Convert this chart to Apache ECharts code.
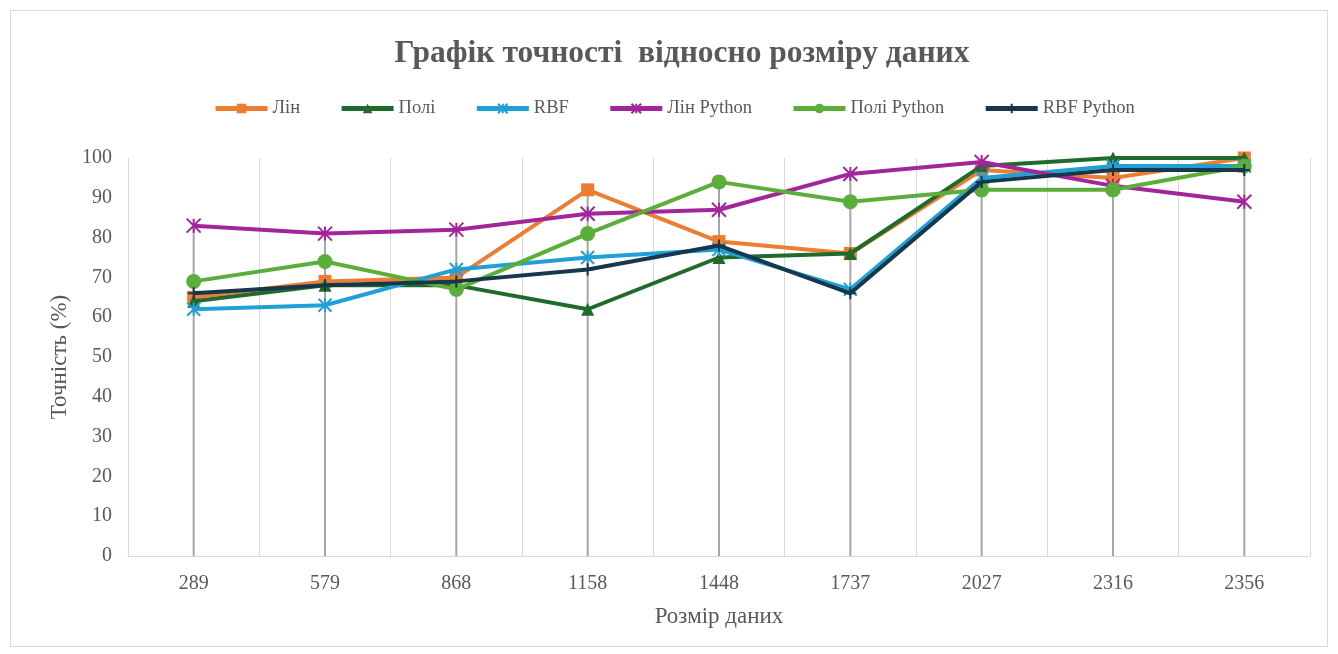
<!DOCTYPE html>
<html><head><meta charset="utf-8">
<script src="https://cdn.jsdelivr.net/npm/echarts@6/dist/echarts.min.js"></script>
<style>
html,body{margin:0;padding:0;background:#fff;}
#frame{position:absolute;left:10px;top:10px;width:1318px;height:637px;border:1px solid #d9d9d9;box-sizing:border-box;}
#chart{position:absolute;left:0;top:0;width:1338px;height:654px;}
</style></head>
<body>
<div id="frame"></div>
<div id="chart"></div>
<script>
const categories = ['289','579','868','1158','1448','1737','2027','2316','2356'];
const lin        = [65, 69, 70, 92, 79, 76, 97, 95, 100];
const poli       = [64, 68, 68, 62, 75, 76, 98, 100, 100];
const rbf        = [62, 63, 72, 75, 77, 67, 95, 98, 98];
const linPy      = [83, 81, 82, 86, 87, 96, 99, 93, 89];
const poliPy     = [69, 74, 67, 81, 94, 89, 92, 92, 98];
const rbfPy      = [66, 68, 69, 72, 78, 66, 94, 97, 97];
const yTicks     = [0,10,20,30,40,50,60,70,80,90,100];

const FONT = "'Liberation Serif', 'DejaVu Serif', serif";
const TXT = '#595959';

const seriesDefs = [
  {name:'Лін', data:lin, color:'#ED7D31', symbol:'rect', size:13},
  {name:'Полі', data:poli, color:'#1F6B2C', symbol:'triangle', size:13},
  {name:'RBF', data:rbf, color:'#21A0D6', symbol:'path://M0,0L10,10M10,0L0,10M5,0L5,10', size:13},
  {name:'Лін Python', data:linPy, color:'#A2269A', symbol:'path://M0,0L10,10M10,0L0,10M5,0L5,10', size:14},
  {name:'Полі Python', data:poliPy, color:'#5BAE3A', symbol:'circle', size:15},
  {name:'RBF Python', data:rbfPy, color:'#17374D', symbol:'path://M5,0L5,10M0,5L10,5', size:12}
];

const dropVals = categories.map((c,i)=>Math.max(...seriesDefs.map(s=>s.data[i])));

const series = [{
  type:'bar', name:'drop', data:dropVals, barWidth:2, silent:true, z:1,
  itemStyle:{color:'#a6a6a6'}, legendHoverLink:false, tooltip:{show:false}
}];
seriesDefs.forEach((s,k)=>{
  const isStroke = s.symbol.startsWith('path');
  series.push({
    type:'line', name:s.name, data:s.data, z:10+k,
    symbol:s.symbol, symbolSize:s.size, showAllSymbol:true,
    lineStyle:{color:s.color, width:4},
    itemStyle: isStroke ? {color:'none', borderColor:s.color, borderWidth:2} : {color:s.color, borderWidth:0},
    emphasis:{disabled:true}
  });
});

const chart = echarts.init(document.getElementById('chart'), null, {renderer:'canvas'});
chart.setOption({
  animation:false,
  backgroundColor:'transparent',
  title:{text:'Графік точності  відносно розміру даних', left:677, textAlign:'center', top:33,
    textStyle:{fontFamily:FONT, fontSize:31.5, fontWeight:'bold', color:TXT}},
  legend:{
    data:seriesDefs.map(s=>s.name), left:208, top:94, itemWidth:52, itemHeight:12, itemGap:39,
    lineStyle:{width:5},
    textStyle:{fontFamily:FONT, fontSize:18.5, color:TXT}
  },
  grid:{left:128, right:28, top:158, bottom:98},
  xAxis:{
    type:'category', data:categories, boundaryGap:true,
    name:'Розмір даних', nameLocation:'middle', nameGap:49,
    nameTextStyle:{fontFamily:FONT, fontSize:23, color:TXT},
    axisLine:{lineStyle:{color:'#d9d9d9', width:1}},
    axisTick:{show:false},
    axisLabel:{fontFamily:FONT, fontSize:20, color:TXT, margin:18},
    splitLine:{show:true, lineStyle:{color:'#d9d9d9', width:1}}
  },
  yAxis:{
    type:'value', min:0, max:100, interval:10,
    name:'Точність (%)', nameLocation:'middle', nameGap:57,
    nameTextStyle:{fontFamily:FONT, fontSize:23, color:TXT},
    axisLine:{show:false}, axisTick:{show:false},
    axisLabel:{fontFamily:FONT, fontSize:20, color:TXT, margin:16,
      formatter:v=>yTicks.includes(v)?String(v):''},
    splitLine:{show:false}
  },
  series:series
});
</script>
</body></html>
